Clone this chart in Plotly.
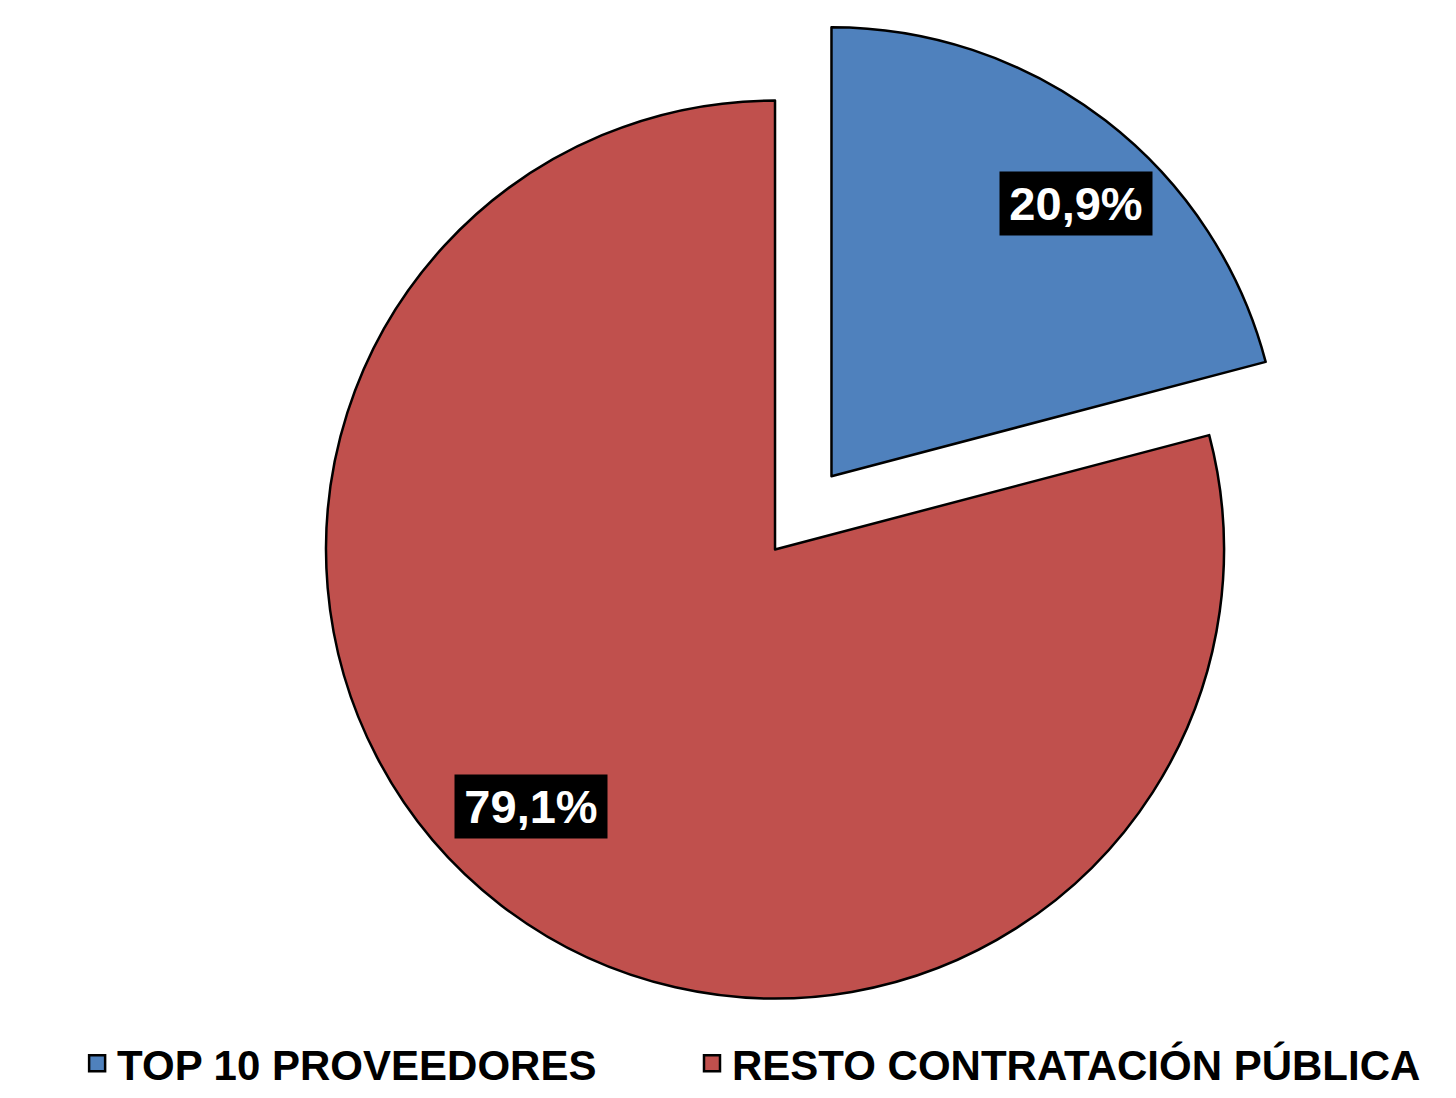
import math
import plotly.graph_objects as go

labels = ["TOP 10 PROVEEDORES", "RESTO CONTRATACIÓN PÚBLICA"]
values = [20.9, 79.1]
colors = ["#4F81BD", "#C0504D"]
pulls = [0.206, 0]

W, H = 1440, 1090
dom_x = [0.0653, 1.0]
dom_y = [0.0, 1.0]

fig = go.Figure()
fig.add_trace(go.Pie(
    labels=labels, values=values, sort=False, direction="clockwise", rotation=0,
    pull=pulls,
    marker=dict(colors=colors, line=dict(color="black", width=2.5)),
    textinfo="none", hoverinfo="label+percent",
    domain=dict(x=dom_x, y=dom_y), showlegend=False,
))

# legend entries (same labels / colours as the slices), one legend box each
legend_ids = ["legend", "legend2"]
for lab, col, lg in zip(labels, colors, legend_ids):
    fig.add_trace(go.Scatter(
        x=[None], y=[None], mode="markers", name=lab, legend=lg,
        marker=dict(symbol="square", size=16, color=col, line=dict(color="black", width=2.5)),
        hoverinfo="skip",
    ))

# label positions derived from the slice angles
cx = W * (dom_x[0] + dom_x[1]) / 2
cy = H * (1 - (dom_y[0] + dom_y[1]) / 2)
r = min(W * (dom_x[1] - dom_x[0]), H * (dom_y[1] - dom_y[0])) / 2 / (1 + max(pulls))
total = sum(values)
cum = 0
for v, p in zip(values, pulls):
    mid = (cum + v / 2) / total * 360
    cum += v
    t = math.radians(mid)
    sx = cx + math.sin(t) * p * r
    sy = cy - math.cos(t) * p * r
    ta = math.radians(mid + 4.8)
    d = 0.8 * r
    lx = sx + math.sin(ta) * d
    ly = sy - math.cos(ta) * d
    fig.add_annotation(
        x=lx / W, y=1 - ly / H, xref="paper", yref="paper",
        xanchor="center", yanchor="middle", yshift=8,
        text=f"{v:.1f}%".replace(".", ","), showarrow=False,
        font=dict(family="Liberation Sans, Arial", size=47, color="white", weight="bold"),
        bgcolor="black", width=152, height=63, borderpad=0,
    )

legend_style = dict(
    orientation="h", xanchor="left", y=-0.006, yanchor="bottom",
    font=dict(size=42, weight="bold", color="black"),
    bgcolor="rgba(0,0,0,0)",
)

fig.update_layout(
    width=W, height=H,
    margin=dict(l=0, r=0, t=0, b=0),
    paper_bgcolor="white", plot_bgcolor="white",
    font=dict(family="Liberation Sans, Arial", color="black"),
    xaxis=dict(visible=False), yaxis=dict(visible=False),
    legend=dict(x=0.048, **legend_style),
    legend2=dict(x=0.475, **legend_style),
)

fig.write_html("out.html")
